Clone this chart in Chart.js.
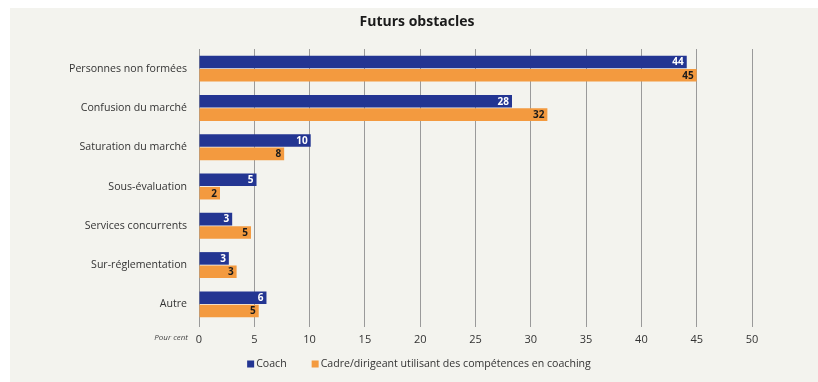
<!DOCTYPE html>
<html lang="fr">
<head>
    <meta charset="UTF-8">
    <title>Futurs obstacles</title>
    <script src="https://cdn.jsdelivr.net/npm/chart.js"></script>
    <style>
        html, body {
            margin: 0;
            padding: 0;
            background: #ffffff;
            overflow: hidden;
        }
        .panel {
            position: absolute;
            left: 10px;
            top: 8px;
            width: 808px;
            height: 374px;
            background: #f3f3ee;
        }
    </style>
</head>
<body>

    <div class="panel">
        <canvas id="obstaclesChart" width="808" height="374"></canvas>
    </div>

    <script>
        // Data (bar lengths in per cent)
        const chartTitle = 'Futurs obstacles';
        const categories = [
            'Personnes non formées',
            'Confusion du marché',
            'Saturation du marché',
            'Sous-évaluation',
            'Services concurrents',
            'Sur-réglementation',
            'Autre'
        ];
        const coachValues = [44.1, 28.3, 10.1, 5.2, 3.0, 2.7, 6.1];
        const cadreValues = [45.0, 31.5, 7.7, 1.9, 4.7, 3.4, 5.4];
        const seriesNames = ['Coach', 'Cadre/dirigeant utilisant des compétences en coaching'];
        const xTicks = [0, 5, 10, 15, 20, 25, 30, 35, 40, 45, 50];

        const FONT = "'Open Sans', sans-serif";

        // labels at the end of each bar
        const barLabels = {
            id: 'barLabels',
            afterDatasetsDraw(chart) {
                const ctx = chart.ctx;
                ctx.save();
                ctx.font = 'bold 10px ' + FONT;
                ctx.textAlign = 'right';
                ctx.textBaseline = 'middle';
                chart.data.datasets.forEach((ds, i) => {
                    const meta = chart.getDatasetMeta(i);
                    ctx.fillStyle = i === 0 ? '#ffffff' : '#1a1a1a';
                    meta.data.forEach((bar, j) => {
                        ctx.fillText(Math.round(ds.data[j]), bar.x - 3, bar.y + 0.5);
                    });
                });
                ctx.restore();
            }
        };

        // title, "Pour cent" note and the legend
        const extras = {
            id: 'extras',
            afterDraw(chart) {
                const ctx = chart.ctx;
                const area = chart.chartArea;
                ctx.save();

                // title centred on the whole panel
                ctx.font = 'bold 14px ' + FONT;
                ctx.fillStyle = '#1a1a1a';
                ctx.textAlign = 'center';
                ctx.textBaseline = 'middle';
                ctx.fillText(chartTitle, chart.width / 2 + 3, 14);

                ctx.font = 'italic 8px ' + FONT;
                ctx.fillStyle = '#444';
                ctx.textAlign = 'right';
                ctx.fillText('Pour cent', area.left - 11, area.bottom + 14);

                // legend
                ctx.font = '10.6px ' + FONT;
                ctx.textAlign = 'left';
                const box = 7, gapText = 2, gapItem = 25;
                const items = chart.data.datasets.map(ds => ({
                    text: ds.label,
                    color: ds.backgroundColor,
                    w: box + gapText + ctx.measureText(ds.label).width
                }));
                const total = items.reduce((s, it) => s + it.w, 0) + gapItem * (items.length - 1);
                let x = chart.width / 2 + 5 - total / 2;
                const y = 356;
                items.forEach(it => {
                    ctx.fillStyle = it.color;
                    ctx.fillRect(x, y - box / 2, box, box);
                    ctx.fillStyle = '#333';
                    ctx.fillText(it.text, x + box + gapText, y);
                    x += it.w + gapItem;
                });
                ctx.restore();
            }
        };

        const ctx = document.getElementById('obstaclesChart').getContext('2d');
        new Chart(ctx, {
            type: 'bar',
            data: {
                labels: categories,
                datasets: [
                    {
                        label: seriesNames[0],
                        data: coachValues,
                        backgroundColor: '#233592',
                        categoryPercentage: 0.68,
                        barPercentage: 0.94
                    },
                    {
                        label: seriesNames[1],
                        data: cadreValues,
                        backgroundColor: '#f39a3f',
                        categoryPercentage: 0.68,
                        barPercentage: 0.94
                    }
                ]
            },
            options: {
                indexAxis: 'y',
                responsive: false,
                animation: false,
                layout: {
                    padding: { left: 0, right: 66, top: 41, bottom: 30 }
                },
                plugins: {
                    legend: { display: false },
                    tooltip: { enabled: false },
                    title: { display: false }
                },
                scales: {
                    x: {
                        min: 0,
                        max: 50,
                        afterBuildTicks: scale => {
                            scale.ticks = xTicks.map(v => ({ value: v }));
                        },
                        afterFit: scale => { scale.height = 28; },
                        grid: {
                            color: '#9a9a9a',
                            lineWidth: 1,
                            drawTicks: true,
                            tickLength: 3
                        },
                        border: { display: false },
                        ticks: {
                            color: '#333',
                            padding: 6,
                            font: { family: FONT, size: 11 }
                        }
                    },
                    y: {
                        afterFit: scale => { scale.width = 189; },
                        grid: { display: false, drawTicks: false },
                        border: { display: false },
                        ticks: {
                            color: '#333',
                            padding: 12,
                            font: { family: FONT, size: 10.6 }
                        }
                    }
                }
            },
            plugins: [barLabels, extras]
        });
    </script>
</body>
</html>
